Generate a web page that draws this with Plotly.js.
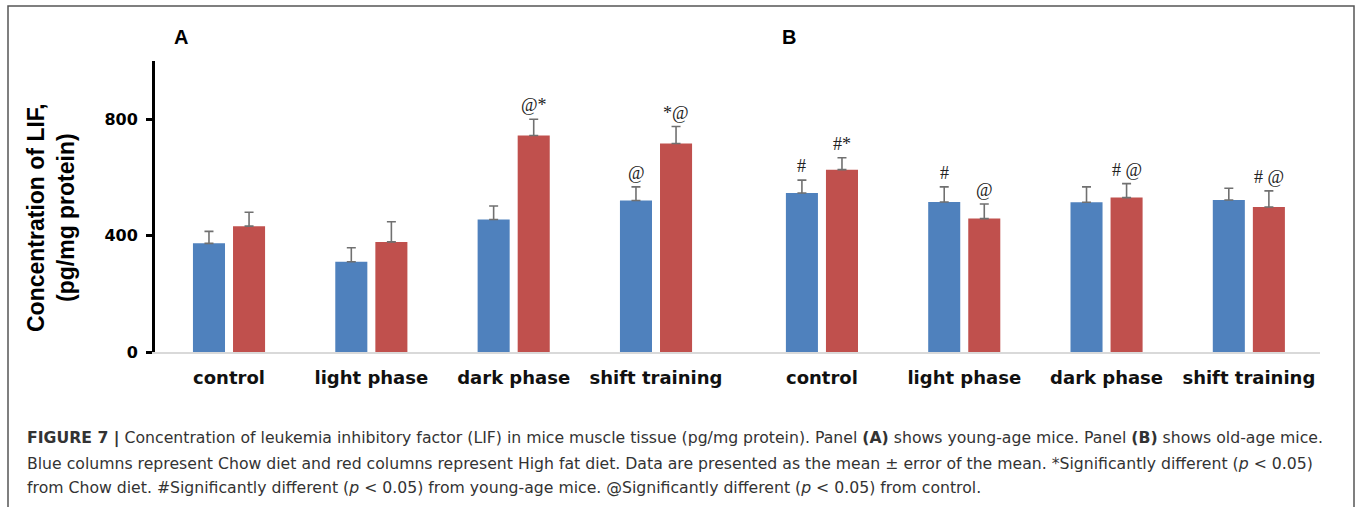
<!DOCTYPE html>
<html>
<head>
<meta charset="utf-8">
<script src="https://cdn.plot.ly/plotly-3.0.1.min.js"></script>
<style>html,body{margin:0;padding:0;background:#fff;}#chart{width:1358px;height:507px;}</style>
</head>
<body>
<div id="chart"></div>
<script>
// ---- data ----
const categories = ['control', 'light phase', 'dark phase', 'shift training'];
const youngChow = [374, 311, 456, 521];
const youngChowErr = [41, 48, 46, 47];
const youngHF = [433, 379, 744, 717];
const youngHFErr = [48, 69, 56, 58];
const oldChow = [547, 516, 515, 523];
const oldChowErr = [44, 52, 53, 40];
const oldHF = [627, 459, 531, 499];
const oldHFErr = [41, 50, 48, 55];
const sigYoungChow = ['', '', '', '@'];
const sigYoungHF = ['', '', '@*', '*@'];
const sigOldChow = ['#', '#', '', ''];
const sigOldHF = ['#*', '@', '# @', '# @'];
const yTicks = [0, 400, 800];

const W = 1358, H = 507;
const px = v => v / W;
const py = v => 1 - v / H;

const blue = '#4F81BD', red = '#C0504D', errCol = '#707070';

function barTrace(y, err, color, xa) {
  return {
    type: 'bar', x: categories, y: y, xaxis: xa, yaxis: 'y',
    marker: {color: color, line: {width: 0}},
    error_y: {type: 'data', array: err, arrayminus: err.map(() => 0), symmetric: false,
      color: errCol, thickness: 1.6, width: 4.5},
    hoverinfo: 'skip', showlegend: false
  };
}

const data = [
  barTrace(youngChow, youngChowErr, blue, 'x'),
  barTrace(youngHF, youngHFErr, red, 'x'),
  barTrace(oldChow, oldChowErr, blue, 'x2'),
  barTrace(oldHF, oldHFErr, red, 'x2')
];

const annotations = [];
function sig(labels, vals, errs, xref, off) {
  labels.forEach((t, i) => {
    if (!t) return;
    annotations.push({
      text: t, x: i + off, y: vals[i] + errs[i], xref: xref, yref: 'y',
      xanchor: 'center', yanchor: 'bottom', yshift: 2, showarrow: false,
      font: {family: 'Liberation Serif, serif', size: 18, color: '#222'}
    });
  });
}
const off = 0.1405;
sig(sigYoungChow, youngChow, youngChowErr, 'x', -off);
sig(sigYoungHF, youngHF, youngHFErr, 'x', off);
sig(sigOldChow, oldChow, oldChowErr, 'x2', -off);
sig(sigOldHF, oldHF, oldHFErr, 'x2', off);

// panel letters
const letterFont = {family: 'Liberation Sans, Arial, sans-serif', size: 20, color: '#000'};
annotations.push({text: '<b>A</b>', x: px(181), y: py(37), xref: 'paper', yref: 'paper', showarrow: false,
  xanchor: 'center', yanchor: 'middle', font: letterFont});
annotations.push({text: '<b>B</b>', x: px(789), y: py(37), xref: 'paper', yref: 'paper', showarrow: false,
  xanchor: 'center', yanchor: 'middle', font: letterFont});

// y title
annotations.push({text: '<b>Concentration of LIF,<br>(pg/mg protein)</b>', x: px(51), y: py(218), xref: 'paper', yref: 'paper',
  showarrow: false, textangle: -90, xanchor: 'center', yanchor: 'middle',
  font: {family: 'Liberation Sans, Arial, sans-serif', size: 23, color: '#000'}});

// caption
const capFont = {family: 'DejaVu Sans, sans-serif', size: 15.7, color: '#333'};
const capLines = [
  '<b>FIGURE 7 |</b> Concentration of leukemia inhibitory factor (LIF) in mice muscle tissue (pg/mg protein). Panel <b>(A)</b> shows young-age mice. Panel <b>(B)</b> shows old-age mice.',
  'Blue columns represent Chow diet and red columns represent High fat diet. Data are presented as the mean ± error of the mean. *Significantly different (<i>p</i> &lt; 0.05)',
  'from Chow diet. #Significantly different (<i>p</i> &lt; 0.05) from young-age mice. @Significantly different (<i>p</i> &lt; 0.05) from control.'
];
const capY = [438, 463, 487];
capLines.forEach((t, i) => annotations.push({text: t, x: px(25), y: py(capY[i]), xref: 'paper', yref: 'paper',
  showarrow: false, xanchor: 'left', yanchor: 'middle', align: 'left', font: capFont}));

const xTickFont = {family: 'DejaVu Sans, sans-serif', size: 18, color: '#111', weight: 'bold'};
const layout = {
  width: W, height: H, margin: {l: 0, r: 0, t: 0, b: 0}, paper_bgcolor: '#fff', plot_bgcolor: 'rgba(0,0,0,0)',
  barmode: 'group', bargap: 0.437, bargroupgap: 0.2, showlegend: false,
  xaxis: {domain: [px(155), px(750.8)], range: [-0.52, 3.666], type: 'category', anchor: 'y',
    showline: true, linecolor: '#d9d9d9', linewidth: 2, showgrid: false, zeroline: false,
    ticks: 'outside', ticklen: 8, tickcolor: 'rgba(0,0,0,0)', tickfont: xTickFont},
  xaxis2: {domain: [px(750.8), px(1320)], range: [-0.5, 3.5], type: 'category', anchor: 'y',
    showline: true, linecolor: '#d9d9d9', linewidth: 2, showgrid: false, zeroline: false,
    ticks: 'outside', ticklen: 8, tickcolor: 'rgba(0,0,0,0)', tickfont: xTickFont},
  yaxis: {domain: [py(352.3), py(61)], range: [0, 1000], anchor: 'x', showline: true, linecolor: '#000', linewidth: 3,
    showgrid: false, zeroline: false, tickmode: 'array', tickvals: yTicks, ticktext: yTicks.map(String),
    ticks: 'outside', ticklen: 6, tickwidth: 3, tickcolor: '#000', ticklabelstandoff: 5,
    tickfont: {family: 'DejaVu Sans, sans-serif', size: 16, color: '#000', weight: 'bold'}},
  annotations: annotations,
  shapes: [{type: 'rect', xref: 'paper', yref: 'paper', x0: px(8), x1: px(1354), y0: -0.1, y1: py(6),
    line: {color: '#555', width: 1.5}, fillcolor: 'rgba(0,0,0,0)', layer: 'below'}]
};

Plotly.newPlot('chart', data, layout, {staticPlot: true, displayModeBar: false});
</script>
</body>
</html>
